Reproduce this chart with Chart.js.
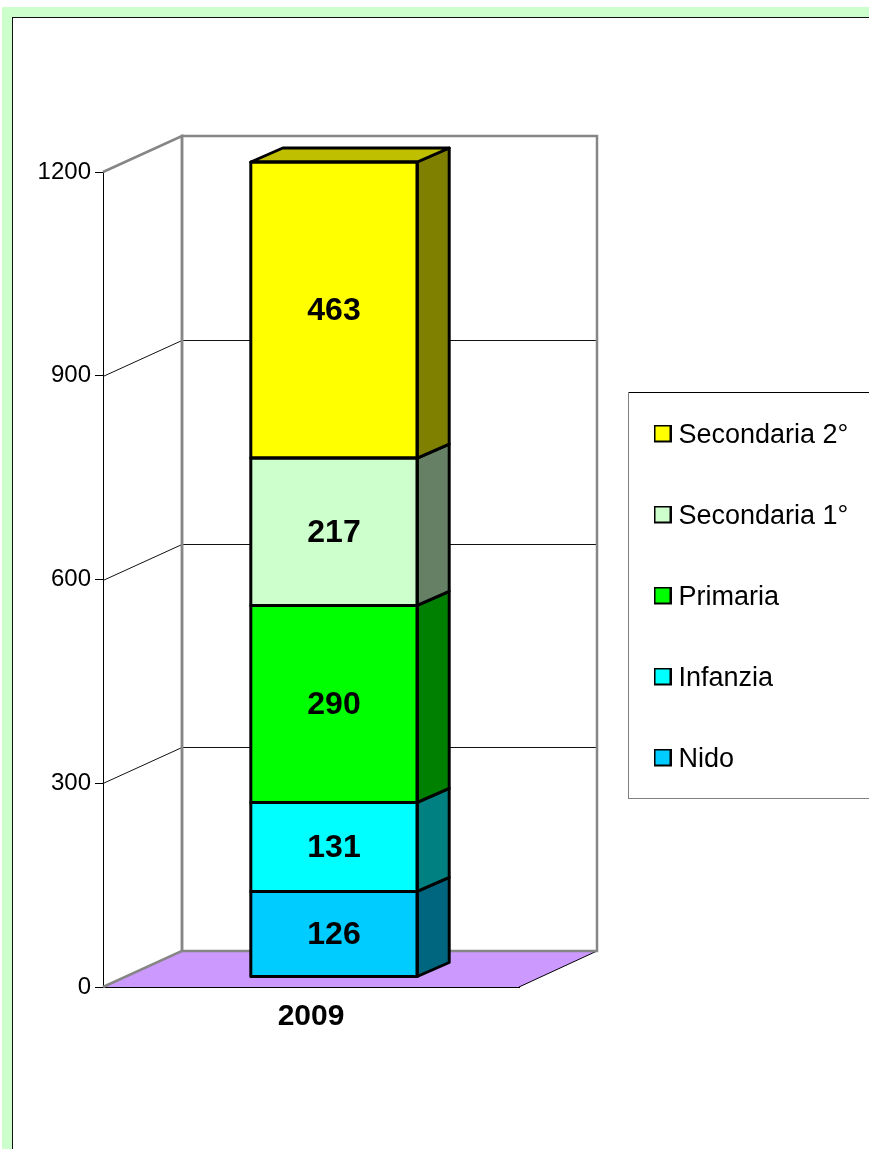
<!DOCTYPE html>
<html>
<head>
<meta charset="utf-8">
<style>html,body{margin:0;padding:0;background:#fff}canvas{display:block}</style>
<script src="https://cdn.jsdelivr.net/npm/chart.js@4"></script>
</head>
<body>
<canvas id="c" width="869" height="1149"></canvas>
<script>
const categories = ['2009'];
const nido = [126];
const infanzia = [131];
const primaria = [290];
const secondaria1 = [217];
const secondaria2 = [463];
const seriesNames = ['Nido', 'Infanzia', 'Primaria', 'Secondaria 1°', 'Secondaria 2°'];
const frontColors = ['#00CCFF', '#00FFFF', '#00FF00', '#CCFFCC', '#FFFF00'];
const sideColors = ['#006680', '#008080', '#008000', '#668066', '#808000'];
const topColor = '#BFBF00';
const yTicks = [0, 300, 600, 900, 1200];

const FONT = '"Liberation Sans", Arial, sans-serif';
const WALL = {dx: 79, dy: -36};
const BAR_SHIFT = {dx: 23, dy: -10};
const BAR_DEPTH = {dx: 32, dy: -14};
const GRAY = '#868686';

function poly(ctx, pts, fill, stroke, lw) {
  ctx.beginPath();
  pts.forEach((p, i) => i ? ctx.lineTo(p[0], p[1]) : ctx.moveTo(p[0], p[1]));
  ctx.closePath();
  if (fill) { ctx.fillStyle = fill; ctx.fill(); }
  if (stroke) { ctx.strokeStyle = stroke; ctx.lineWidth = lw; ctx.stroke(); }
}
function line(ctx, pts, stroke, lw) {
  ctx.beginPath();
  pts.forEach((p, i) => i ? ctx.lineTo(p[0], p[1]) : ctx.moveTo(p[0], p[1]));
  ctx.strokeStyle = stroke; ctx.lineWidth = lw; ctx.stroke();
}
function legendIcon(color) {
  const s = document.createElement('canvas');
  s.width = 18; s.height = 22;
  const g = s.getContext('2d');
  g.fillStyle = '#000'; g.fillRect(0, 0, 18, 18);
  g.fillStyle = color; g.fillRect(2, 2, 14, 14);
  return s;
}

const scene = {
  id: 'scene',
  afterLayout(chart) {
    const l = chart.legend;
    const w = l.width, h = l.height;
    l.left = 606; l.top = 368;
    l.right = l.left + w; l.bottom = l.top + h;
  },
  beforeDraw(chart) {
    const ctx = chart.ctx, W = chart.width, H = chart.height;
    ctx.save();
    ctx.fillStyle = '#CCFFCC'; ctx.fillRect(2, 7, W, H);
    ctx.fillStyle = '#FFFFFF'; ctx.fillRect(13, 18, W, H);
    ctx.fillStyle = '#111'; ctx.fillRect(12, 17, W, 1); ctx.fillRect(12, 17, 1, H);
    // legend frame
    ctx.fillStyle = '#000'; ctx.fillRect(628, 392, W, 1);
    ctx.fillStyle = '#808080'; ctx.fillRect(628, 392, 1, 407); ctx.fillRect(628, 798, W, 1);
    ctx.restore();
  },
  beforeDatasetsDraw(chart) {
    const ctx = chart.ctx, y = chart.scales.y, a = chart.chartArea;
    const y0 = y.getPixelForValue(yTicks[0]), yMax = y.getPixelForValue(yTicks[yTicks.length - 1]);
    const b = WALL;
    ctx.save();
    // floor
    poly(ctx, [[a.left, y0], [a.left + b.dx, y0 + b.dy], [a.right + b.dx - 1, y0 + b.dy], [a.right, y0]], '#CC99FF');
    // inner grid on side + back wall
    yTicks.slice(1, -1).forEach(t => {
      const p = Math.round(y.getPixelForValue(t)) + 0.5;
      line(ctx, [[a.left, p], [a.left + b.dx, p + b.dy], [a.right + b.dx - 1, p + b.dy]], '#111', 1);
    });
    line(ctx, [[a.right, y0], [a.right + b.dx - 1, y0 + b.dy]], '#000', 1);
    // wall frame
    line(ctx, [[a.left, y0], [a.left + b.dx, y0 + b.dy], [a.left + b.dx, yMax + b.dy], [a.left, yMax]], GRAY, 2.5);
    poly(ctx, [[a.left + b.dx, y0 + b.dy], [a.right + b.dx - 1, y0 + b.dy], [a.right + b.dx - 1, yMax + b.dy], [a.left + b.dx, yMax + b.dy]], null, GRAY, 2.5);
    ctx.restore();
    ctx.save();
    ctx.translate(BAR_SHIFT.dx, BAR_SHIFT.dy);
  },
  afterDatasetsDraw(chart) {
    const ctx = chart.ctx, a = chart.chartArea;
    ctx.restore();
    ctx.save();
    ctx.lineJoin = 'round';
    const sx = BAR_SHIFT.dx, sy = BAR_SHIFT.dy, dx = BAR_DEPTH.dx, dy = BAR_DEPTH.dy;
    const LW = 3;
    let t = null;
    const rects = [];
    chart.data.datasets.forEach((ds, i) => {
      chart.getDatasetMeta(i).data.forEach(el => {
        const yt = Math.max(el.y, a.top) + sy, yb = el.base + sy;
        const xl = el.x - el.width / 2 + sx, xr = el.x + el.width / 2 + sx;
        poly(ctx, [[xr, yt], [xr + dx, yt + dy], [xr + dx, yb + dy], [xr, yb]], sideColors[i], '#000', LW);
        rects.push({xl, xr, yt, yb});
        t = {xl, xr, yt};
      });
    });
    // top face
    poly(ctx, [[t.xl, t.yt], [t.xl + dx, t.yt + dy], [t.xr + dx, t.yt + dy], [t.xr, t.yt]], topColor, '#000', LW);
    // front outlines
    rects.forEach(r => poly(ctx, [[r.xl, r.yt], [r.xr, r.yt], [r.xr, r.yb], [r.xl, r.yb]], null, '#000', LW));
    // value labels
    ctx.font = 'bold 32px ' + FONT;
    ctx.fillStyle = '#000';
    ctx.textAlign = 'center';
    ctx.textBaseline = 'middle';
    chart.data.datasets.forEach((ds, i) => {
      chart.getDatasetMeta(i).data.forEach((el, k) => {
        const yt = Math.max(el.y, a.top);
        ctx.fillText(String(ds.data[k]), el.x + sx, (yt + el.base) / 2 + sy + 1);
      });
    });
    ctx.restore();
  }
};

const seriesValues = [nido, infanzia, primaria, secondaria1, secondaria2];
new Chart(document.getElementById('c'), {
  type: 'bar',
  data: {
    labels: categories,
    datasets: seriesValues.map((vals, i) => ({
      label: seriesNames[i],
      data: vals,
      backgroundColor: frontColors[i],
      borderWidth: 0,
      clip: 0,
      categoryPercentage: 1,
      barPercentage: 0.4
    }))
  },
  options: {
    responsive: false,
    animation: false,
    events: [],
    devicePixelRatio: 1,
    layout: {padding: {left: 0, top: 172, right: 350, bottom: 0}},
    plugins: {
      title: {display: false},
      tooltip: {enabled: false},
      legend: {
        display: true,
        position: 'chartArea',
        reverse: true,
        align: 'start',
        labels: {
          usePointStyle: true,
          pointStyleWidth: 5,
          boxHeight: 18,
          padding: 54,
          color: '#000',
          font: {family: FONT, size: 27},
          generateLabels(chart) {
            return Chart.defaults.plugins.legend.labels.generateLabels(chart).map(it => {
              it.pointStyle = legendIcon(it.fillStyle);
              return it;
            });
          }
        }
      }
    },
    scales: {
      x: {
        stacked: true,
        grid: {display: false},
        border: {display: true, color: '#000', width: 1},
        ticks: {color: '#000', font: {family: FONT, size: 30, weight: 'bold'}, padding: 4, maxRotation: 0},
        afterFit(s) { s.height = 1149 - 987; }
      },
      y: {
        stacked: true,
        min: 0,
        max: 1200,
        grid: {drawOnChartArea: false, drawTicks: true, tickLength: 8, color: '#000'},
        border: {display: true, color: '#000', width: 1},
        ticks: {stepSize: 300, color: '#000', font: {family: FONT, size: 24}, padding: 4, callback: v => String(v)},
        afterFit(s) { s.width = 103; }
      }
    }
  },
  plugins: [scene]
});
</script>
</body>
</html>
